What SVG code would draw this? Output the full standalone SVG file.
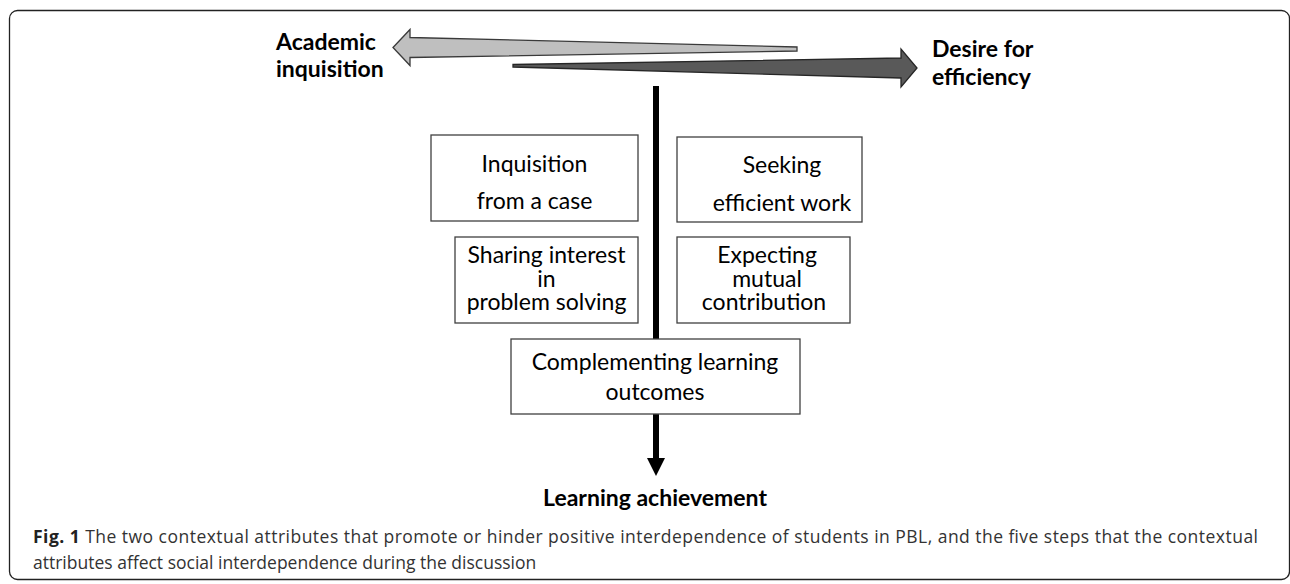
<svg xmlns="http://www.w3.org/2000/svg" width="1290" height="584" viewBox="0 0 1290 584">
  <style>
    .box { fill: #ffffff; stroke: #404040; stroke-width: 1.3; }
    .t { font-family: Lato, "Open Sans", sans-serif; font-size: 23px; fill: #000; text-anchor: middle; }
    .lbl { font-family: Lato, "Open Sans", sans-serif; font-size: 23px; font-weight: bold; fill: #000; }
    .cap { font-family: "Open Sans", "Noto Sans", sans-serif; font-size: 17.5px; fill: #333; }
  </style>

  <!-- figure frame -->
  <rect x="9.5" y="10.5" width="1280" height="569" rx="8" fill="none" stroke="#222" stroke-width="1.3"/>

  <!-- opposing tendency arrows -->
  <g id="tendencies">
    <polygon id="arrow-academic" points="393,47.5 410,29.5 410,37.5 797,47 797,51 410,57.5 410,65.5" fill="#bfbfbf" stroke="#3a3a3a" stroke-width="1.3"/>
    <polygon id="arrow-efficiency" points="513,64.5 901,58 901,49 917,68 901,87 901,78 513,67" fill="#595959" stroke="#262626" stroke-width="1.3"/>
  </g>

  <g id="label-academic">
    <text class="lbl" x="276" y="50">Academic</text>
    <text class="lbl" x="276" y="77">inquisition</text>
  </g>
  <g id="label-efficiency">
    <text class="lbl" x="932" y="57">Desire for</text>
    <text class="lbl" x="932" y="85">efficiency</text>
  </g>

  <!-- main flow: vertical spine ending in an arrowhead -->
  <g id="connectors">
    <line x1="656" y1="86" x2="656" y2="459" stroke="#000" stroke-width="6"/>
    <polygon points="647,458 665,458 656,476" fill="#000"/>
  </g>

  <g id="node-inquisition">
    <rect class="box" x="431" y="135" width="207" height="86"/>
    <text class="t" x="534.5" y="172">Inquisition</text>
    <text class="t" x="534.5" y="209">from a case</text>
  </g>
  <g id="node-seeking">
    <rect class="box" x="677" y="137" width="185" height="85"/>
    <text class="t" x="782" y="173">Seeking</text>
    <text class="t" x="782" y="211">efficient work</text>
  </g>
  <g id="node-sharing">
    <rect class="box" x="455" y="237" width="183" height="86"/>
    <text class="t" x="546.5" y="263">Sharing interest</text>
    <text class="t" x="546.5" y="287">in</text>
    <text class="t" x="546.5" y="310">problem solving</text>
  </g>
  <g id="node-expecting">
    <rect class="box" x="677" y="237" width="173" height="86"/>
    <text class="t" x="767" y="263">Expecting</text>
    <text class="t" x="767" y="287">mutual</text>
    <text class="t" x="764" y="310">contribution</text>
  </g>
  <g id="node-complementing">
    <rect class="box" x="511" y="339" width="289" height="75"/>
    <text class="t" x="655" y="370">Complementing learning</text>
    <text class="t" x="655" y="400">outcomes</text>
  </g>
  <g id="node-achievement">
    <text class="lbl" x="655" y="506" text-anchor="middle">Learning achievement</text>
  </g>

  <!-- caption -->
  <g id="caption">
    <text class="cap" x="33" y="543" textLength="1225" lengthAdjust="spacing"><tspan font-weight="bold" fill="#222">Fig. 1</tspan> The two contextual attributes that promote or hinder positive interdependence of students in PBL, and the five steps that the contextual</text>
    <text class="cap" x="33" y="569">attributes affect social interdependence during the discussion</text>
  </g>
</svg>
